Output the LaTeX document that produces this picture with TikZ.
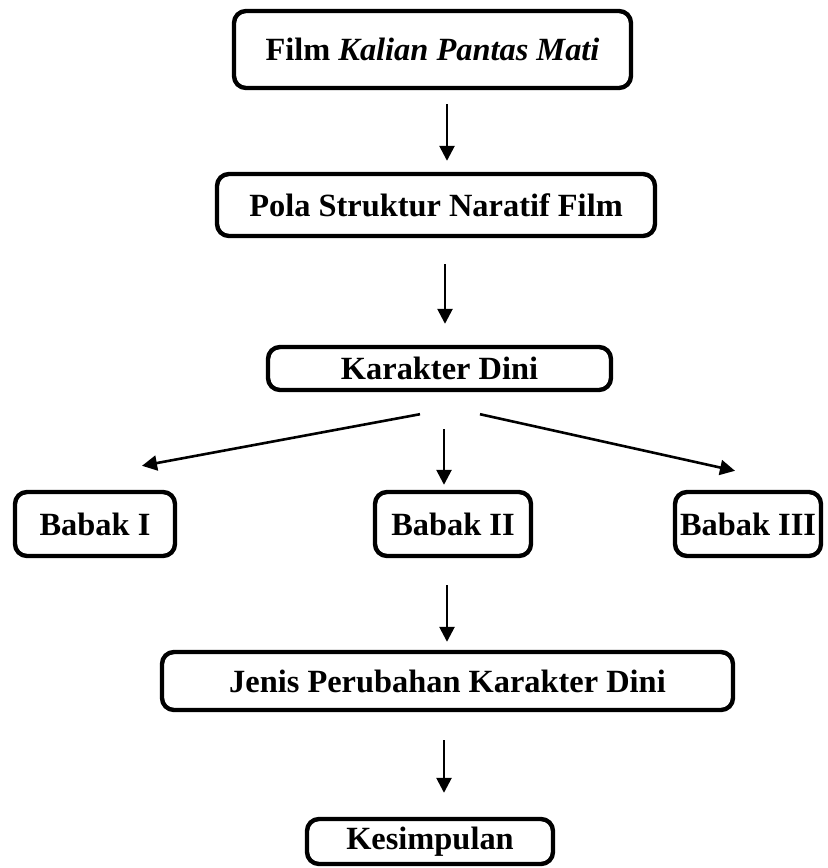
\documentclass[tikz,border=0pt]{standalone}
\usepackage{fontspec}
\setmainfont{Liberation Serif}
\usetikzlibrary{arrows.meta,calc}

\begin{document}
\begin{tikzpicture}[x=0.5pt,y=-0.5pt]

        \useasboundingbox (0,0) rectangle (827,868);

        \begin{scope}[every node/.style={draw, line width=2.2pt, rounded corners=6pt,
            inner sep=0pt, align=center, font=\fontsize{16.2}{19}\selectfont\bfseries}]
          \node[minimum width=198.5pt, minimum height=38.5pt] (film)  at (432.5,49.5) {Film \textit{Kalian Pantas Mati}};
          \node[minimum width=219pt,   minimum height=31pt]   (pola)  at (436,205)    {Pola Struktur Naratif Film};
          \node[minimum width=171.5pt, minimum height=21.5pt] (kar)   at (439.5,368.5) {Karakter Dini};
          \node[minimum width=80pt,    minimum height=32pt]   (b1)    at (95,524)     {Babak I};
          \node[minimum width=78pt,    minimum height=32pt]   (b2)    at (453,524)    {Babak II};
          \node[minimum width=73pt,    minimum height=32pt]   (b3)    at (748,524)    {Babak III};
          \node[minimum width=285.5pt, minimum height=29pt]   (jenis) at (447.5,681)  {Jenis Perubahan Karakter Dini};
          \node[minimum width=123pt,   minimum height=22.5pt] (kes)   at (430,841.5)  {Kesimpulan};
        \end{scope}

        % ends of the arrows, they do not touch the boxes
        \coordinate (a1s) at ($(film.south)+(14.5,14)$);
        \coordinate (a1e) at ($(pola.north)+(11,-11)$);
        \coordinate (a2s) at ($(pola.south)+(9,26)$);
        \coordinate (a2e) at ($(kar.north)+(5.5,-21)$);
        \coordinate (l1)  at ($(kar.south)+(-19.5,22)$);
        \coordinate (l2)  at ($(b1.north)+(47,-24)$);
        \coordinate (m1)  at ($(kar.south)+(4.5,37)$);
        \coordinate (m2)  at ($(b2.north)+(-9,-5)$);
        \coordinate (r1)  at ($(kar.south)+(40.5,22)$);
        \coordinate (r2)  at ($(b3.north)+(-13,-19)$);
        \coordinate (a4s) at ($(b2.south)+(-6,27)$);
        \coordinate (a4e) at ($(jenis.north)+(-0.5,-8)$);
        \coordinate (a5s) at ($(jenis.south)+(-3.5,28)$);
        \coordinate (a5e) at ($(kes.north)+(14,-24)$);

        \begin{scope}[every edge/.style={draw, line width=1.3pt, -{Triangle[length=7.5pt,width=7.5pt]}}]
          \path (a1s) edge (a1e);
          \path (a2s) edge (a2e);
          \path (l1)  edge (l2);
          \path (m1)  edge (m2);
          \path (r1)  edge (r2);
          \path (a4s) edge (a4e);
          \path (a5s) edge (a5e);
        \end{scope}

      \end{tikzpicture}
\end{document}
